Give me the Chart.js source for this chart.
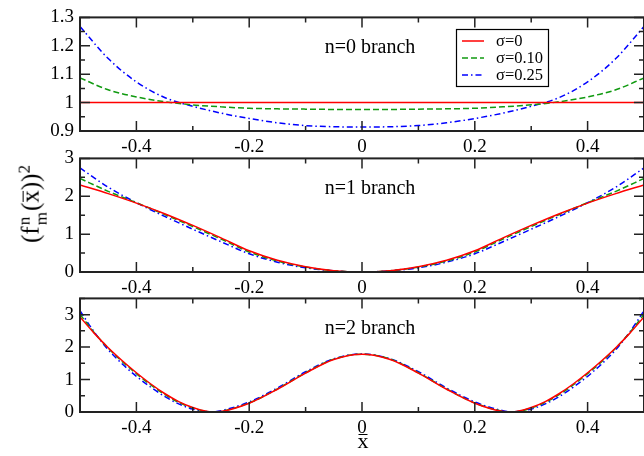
<!DOCTYPE html>
<html>
<head>
<meta charset="utf-8">
<script src="https://cdn.jsdelivr.net/npm/chart.js@4.4.0/dist/chart.umd.min.js"></script>
<style>
  body { margin: 0; background: #fff; }
  #wrap { position: relative; width: 644px; height: 456px; overflow: hidden; font-family: 'Liberation Serif', serif; }
  canvas { position: absolute; left: 0; }
  #ytitle { position: absolute; left: 32px; top: 204px; transform: translate(-50%, -50%) rotate(-90deg); font-size: 25px; white-space: nowrap; }
  #ytitle .nm { display: inline-block; vertical-align: middle; font-size: 17px; line-height: 0.95; margin: 0 1px; }
  #ytitle .nm span { display: block; }
  #ytitle sup { font-size: 17px; }
  .xb { position: relative; }
  .xb::before { content: ''; position: absolute; left: 1px; right: 1px; top: 0.22em; border-top: 1.5px solid #000; }
  #xtitle { position: absolute; left: 363px; top: 428px; transform: translateX(-50%); font-size: 22px; }
  #xtitle .xb::before { top: 0.27em; }
</style>
</head>
<body>
<div id="wrap">
  <canvas id="p0" width="644" height="155" style="top:0px"></canvas>
  <canvas id="p1" width="644" height="155" style="top:141px"></canvas>
  <canvas id="p2" width="644" height="155" style="top:281px"></canvas>
  <div id="ytitle">(f<span class="nm"><span>n</span><span>m</span></span>(<span class="xb">x</span>))<sup>2</sup></div>
  <div id="xtitle"><span class="xb">x</span></div>
</div>
<script>
// ===== DADOS =====
const SERIES = ['σ=0', 'σ=0.10', 'σ=0.25'];
const CORES = ['#ff0000', '#109a10', '#0000ff'];
const TRACOS = [[], [6, 3], [6, 3, 1.5, 3]];

const xTicks = [-0.4, -0.2, 0, 0.2, 0.4];
const xMinor = [-0.3, -0.1, 0.1, 0.3];

// n=0 branch
const x0 = [-0.5, -0.45, -0.4, -0.35, -0.3, -0.25, -0.2, -0.15, -0.1, -0.05, 0, 0.05, 0.1, 0.15, 0.2, 0.25, 0.3, 0.35, 0.4, 0.45, 0.5];
const n0_s0 = [1, 1, 1, 1, 1, 1, 1, 1, 1, 1, 1, 1, 1, 1, 1, 1, 1, 1, 1, 1, 1];
const n0_s10 = [1.087, 1.045, 1.020, 1.003, 0.992, 0.985, 0.980, 0.978, 0.977, 0.976, 0.976, 0.976, 0.977, 0.978, 0.980, 0.985, 0.992, 1.003, 1.020, 1.045, 1.087];
const n0_s25 = [1.268, 1.155, 1.073, 1.018, 0.987, 0.963, 0.944, 0.929, 0.919, 0.915, 0.914, 0.915, 0.919, 0.929, 0.944, 0.963, 0.987, 1.018, 1.073, 1.155, 1.268];
const y0Ticks = [0.9, 1.0, 1.1, 1.2, 1.3];
const y0Minor = [0.95, 1.05, 1.15, 1.25];

// n=1 branch
const x1 = x0;
const n1_s0 = [2.30, 2.07, 1.82, 1.54, 1.23, 0.90, 0.56, 0.31, 0.14, 0.035, 0, 0.035, 0.14, 0.31, 0.56, 0.90, 1.23, 1.54, 1.82, 2.07, 2.30];
const n1_s10 = [2.47, 2.13, 1.83, 1.52, 1.20, 0.87, 0.53, 0.29, 0.13, 0.033, 0, 0.033, 0.13, 0.29, 0.53, 0.87, 1.20, 1.52, 1.83, 2.13, 2.47];
const n1_s25 = [2.75, 2.24, 1.83, 1.47, 1.13, 0.80, 0.48, 0.26, 0.11, 0.03, 0, 0.03, 0.11, 0.26, 0.48, 0.80, 1.13, 1.47, 1.83, 2.24, 2.75];
const y1Ticks = [0, 1, 2, 3];
const y1Minor = [0.5, 1.5, 2.5];

// n=2 branch
const x2 = [-0.5, -0.475, -0.45, -0.425, -0.4, -0.375, -0.35, -0.325, -0.3, -0.265, -0.25, -0.2, -0.15, -0.1, -0.05, 0,
            0.05, 0.1, 0.15, 0.2, 0.25, 0.265, 0.3, 0.325, 0.35, 0.375, 0.4, 0.425, 0.45, 0.475, 0.5];
const n2_s0 = [2.93, 2.43, 1.98, 1.58, 1.21, 0.87, 0.57, 0.32, 0.14, 0, 0.015, 0.27, 0.70, 1.20, 1.62, 1.78,
               1.62, 1.20, 0.70, 0.27, 0.015, 0, 0.14, 0.32, 0.57, 0.87, 1.21, 1.58, 1.98, 2.43, 2.93];
const n2_s10 = [3.01, 2.45, 1.97, 1.55, 1.18, 0.84, 0.54, 0.30, 0.12, 0, 0.02, 0.28, 0.71, 1.21, 1.63, 1.78,
                1.63, 1.21, 0.71, 0.28, 0.02, 0, 0.12, 0.30, 0.54, 0.84, 1.18, 1.55, 1.97, 2.45, 3.01];
const n2_s25 = [3.12, 2.47, 1.92, 1.48, 1.10, 0.77, 0.48, 0.25, 0.09, 0.005, 0.04, 0.31, 0.74, 1.24, 1.64, 1.79,
                1.64, 1.24, 0.74, 0.31, 0.04, 0.005, 0.09, 0.25, 0.48, 0.77, 1.10, 1.48, 1.92, 2.47, 3.12];
const y2Ticks = [0, 1, 2, 3];
const y2Minor = [0.5, 1.5, 2.5, 3.5];

const FONTE = { family: 'Liberation Serif', size: 19 };

// ===== MOLDURA, TICKS, RÓTULOS =====
const molduraPlugin = {
  id: 'moldura',
  afterDraw(chart, args, o) {
    const { ctx, chartArea: a } = chart;
    const sx = chart.scales.x, sy = chart.scales.y;
    ctx.save();
    ctx.strokeStyle = '#222';
    ctx.lineWidth = 1.5;
    ctx.beginPath();
    const tx = (v, len) => {
      const p = sx.getPixelForValue(v);
      ctx.moveTo(p, a.bottom); ctx.lineTo(p, a.bottom - len);
      ctx.moveTo(p, a.top); ctx.lineTo(p, a.top + len);
    };
    const ty = (v, len) => {
      const p = sy.getPixelForValue(v);
      ctx.moveTo(a.left, p); ctx.lineTo(a.left + len, p);
      ctx.moveTo(a.right, p); ctx.lineTo(a.right - len, p);
    };
    xTicks.forEach(v => tx(v, 10));
    xMinor.forEach(v => tx(v, 5));
    o.yTicks.forEach(v => ty(v, 10));
    o.yMinor.forEach(v => ty(v, 5));
    ctx.stroke();
    ctx.lineWidth = 2;
    ctx.strokeRect(a.left, a.top, a.right - a.left, a.bottom - a.top);

    ctx.fillStyle = '#000';
    ctx.font = "20px 'Liberation Serif'";
    ctx.textAlign = 'center';
    ctx.textBaseline = 'middle';
    ctx.fillText(o.rotulo, 370, a.top + 30);

    if (o.legenda) {
      const L = 456, T = 29, W = 92, H = 57;
      ctx.fillStyle = '#fff';
      ctx.fillRect(L, T, W, H);
      ctx.lineWidth = 1.2;
      ctx.strokeStyle = '#000';
      ctx.strokeRect(L + 0.5, T + 0.5, W, H);
      ctx.font = "16.5px 'Liberation Serif'";
      ctx.textAlign = 'left';
      chart.data.datasets.forEach((d, i) => {
        const yy = T + 12 + i * 17;
        ctx.strokeStyle = d.borderColor;
        ctx.lineWidth = 1.5;
        ctx.setLineDash(d.borderDash);
        ctx.beginPath();
        ctx.moveTo(L + 6, yy); ctx.lineTo(L + 28, yy);
        ctx.stroke();
        ctx.setLineDash([]);
        ctx.fillStyle = '#000';
        ctx.fillText(d.label, L + 40, yy + 1);
      });
    }
    ctx.restore();
  }
};

function criarPainel(id, xs, valores, yMin, yMax, yTicks, yMinor, rotulo, legenda) {
  return new Chart(document.getElementById(id), {
    type: 'line',
    data: {
      datasets: valores.map((vals, i) => ({
        label: SERIES[i],
        data: xs.map((x, k) => ({ x, y: vals[k] })),
        borderColor: CORES[i],
        borderDash: TRACOS[i],
        borderWidth: 1.5,
        pointRadius: 0,
        fill: false,
        cubicInterpolationMode: 'monotone'
      }))
    },
    options: {
      responsive: false,
      animation: false,
      devicePixelRatio: 1,
      layout: { padding: { top: 14, right: 0, left: 0, bottom: 0 } },
      plugins: {
        legend: { display: false },
        tooltip: { enabled: false },
        moldura: { yTicks, yMinor, rotulo, legenda }
      },
      scales: {
        x: {
          type: 'linear', min: -0.5, max: 0.5,
          grid: { display: false, drawTicks: false },
          border: { display: false },
          afterBuildTicks: s => { s.ticks = xTicks.map(v => ({ value: v })); },
          afterFit: s => { s.height = 24; },
          ticks: { font: FONTE, color: '#000', padding: 5, maxRotation: 0, callback: v => String(v) }
        },
        y: {
          min: yMin, max: yMax,
          grid: { display: false, drawTicks: false },
          border: { display: false },
          afterBuildTicks: s => { s.ticks = yTicks.map(v => ({ value: v })); },
          afterFit: s => { s.width = 80; },
          ticks: { font: FONTE, color: '#000', padding: 6, callback: v => String(v) }
        }
      }
    },
    plugins: [molduraPlugin]
  });
}

criarPainel('p0', x0, [n0_s0, n0_s10, n0_s25], 0.9, 1.3, y0Ticks, y0Minor, 'n=0 branch', true);
criarPainel('p1', x1, [n1_s0, n1_s10, n1_s25], 0, 3, y1Ticks, y1Minor, 'n=1 branch', false);
criarPainel('p2', x2, [n2_s0, n2_s10, n2_s25], 0, 3.5, y2Ticks, y2Minor, 'n=2 branch', false);
</script>
</body>
</html>
